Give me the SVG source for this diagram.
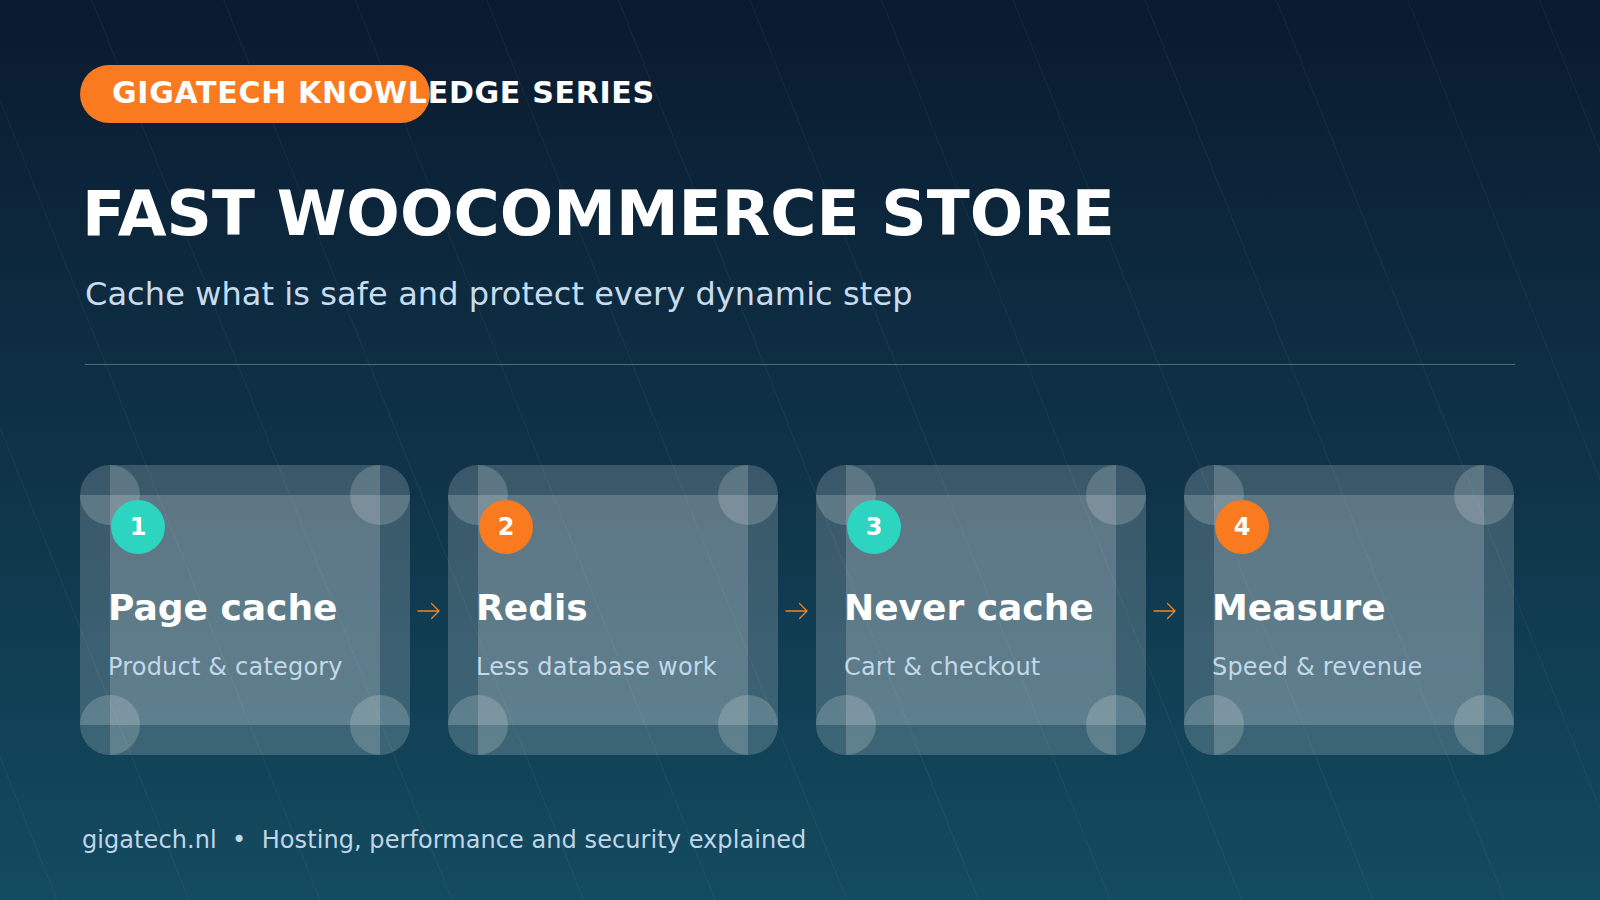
<svg xmlns="http://www.w3.org/2000/svg" width="1600" height="900" viewBox="0 0 1600 900">
  <defs>
    <linearGradient id="bg" x1="0" y1="0" x2="0" y2="1">
      <stop offset="0" stop-color="#0a1a2f"/>
      <stop offset="1" stop-color="#134b60"/>
    </linearGradient>
    <style>
      .sans { font-family: "DejaVu Sans", "Liberation Sans", sans-serif; }
      .diag { stroke: #ffffff; stroke-opacity: 0.055; stroke-width: 1; fill: none; }
      .piece { fill: #ffffff; fill-opacity: 0.18; }
      .num { font-family: "DejaVu Sans", sans-serif; font-weight: bold; font-size: 24px; fill: #ffffff; text-anchor: middle; }
      .ctitle { font-family: "DejaVu Sans", sans-serif; font-weight: bold; font-size: 36px; fill: #ffffff; }
      .csub { font-family: "DejaVu Sans", sans-serif; font-size: 24px; fill: #c3d8e8; letter-spacing: 0.2px; }
      .arrow { stroke: #e8862c; stroke-width: 1.3; fill: none; stroke-linecap: round; stroke-linejoin: round; }
      .teal { fill: #2dd4c0; }
      .orange { fill: #f97a1f; }
    </style>
  </defs>

  <rect width="1600" height="900" fill="url(#bg)"/>

  <g id="diagonals" class="diag">
    <path d="M-303 0 L57 900 M-171 0 L189 900 M-40 0 L320 900 M92 0 L452 900 M223.6 0 L583.6 900 M355.2 0 L715.2 900 M486.8 0 L846.8 900 M618.4 0 L978.4 900 M750 0 L1110 900 M881.6 0 L1241.6 900 M1013.2 0 L1373.2 900 M1144.8 0 L1504.8 900 M1276.4 0 L1636.4 900 M1408 0 L1768 900 M1539.6 0 L1899.6 900"/>
  </g>

  <g id="header">
    <rect x="80" y="65" width="350" height="58" rx="29" fill="#f97a1f"/>
    <text x="112" y="103" class="sans" font-size="30" font-weight="bold" fill="#ffffff" letter-spacing="0.7">GIGATECH KNOWLEDGE SERIES</text>
    <text x="82" y="235" class="sans" font-size="63" font-weight="bold" fill="#ffffff">FAST WOOCOMMERCE STORE</text>
    <text x="85" y="305" class="sans" font-size="32" fill="#c8dcef" letter-spacing="0.08">Cache what is safe and protect every dynamic step</text>
    <line x1="85" y1="364.5" x2="1515" y2="364.5" stroke="#ffffff" stroke-opacity="0.28" stroke-width="1"/>
  </g>

  <g id="card1">
    <rect class="piece" x="110" y="465" width="270" height="290"/>
    <rect class="piece" x="80" y="495" width="330" height="230"/>
    <circle class="piece" cx="110" cy="495" r="30"/>
    <circle class="piece" cx="380" cy="495" r="30"/>
    <circle class="piece" cx="110" cy="725" r="30"/>
    <circle class="piece" cx="380" cy="725" r="30"/>
    <circle class="teal" cx="138" cy="527" r="27"/>
    <text class="num" x="138" y="535">1</text>
    <text class="ctitle" x="108" y="620">Page cache</text>
    <text class="csub" x="108" y="675">Product &amp; category</text>
  </g>

  <g id="card2">
    <rect class="piece" x="478" y="465" width="270" height="290"/>
    <rect class="piece" x="448" y="495" width="330" height="230"/>
    <circle class="piece" cx="478" cy="495" r="30"/>
    <circle class="piece" cx="748" cy="495" r="30"/>
    <circle class="piece" cx="478" cy="725" r="30"/>
    <circle class="piece" cx="748" cy="725" r="30"/>
    <circle class="orange" cx="506" cy="527" r="27"/>
    <text class="num" x="506" y="535">2</text>
    <text class="ctitle" x="476" y="620">Redis</text>
    <text class="csub" x="476" y="675">Less database work</text>
  </g>

  <g id="card3">
    <rect class="piece" x="846" y="465" width="270" height="290"/>
    <rect class="piece" x="816" y="495" width="330" height="230"/>
    <circle class="piece" cx="846" cy="495" r="30"/>
    <circle class="piece" cx="1116" cy="495" r="30"/>
    <circle class="piece" cx="846" cy="725" r="30"/>
    <circle class="piece" cx="1116" cy="725" r="30"/>
    <circle class="teal" cx="874" cy="527" r="27"/>
    <text class="num" x="874" y="535">3</text>
    <text class="ctitle" x="844" y="620">Never cache</text>
    <text class="csub" x="844" y="675">Cart &amp; checkout</text>
  </g>

  <g id="card4">
    <rect class="piece" x="1214" y="465" width="270" height="290"/>
    <rect class="piece" x="1184" y="495" width="330" height="230"/>
    <circle class="piece" cx="1214" cy="495" r="30"/>
    <circle class="piece" cx="1484" cy="495" r="30"/>
    <circle class="piece" cx="1214" cy="725" r="30"/>
    <circle class="piece" cx="1484" cy="725" r="30"/>
    <circle class="orange" cx="1242" cy="527" r="27"/>
    <text class="num" x="1242" y="535">4</text>
    <text class="ctitle" x="1212" y="620">Measure</text>
    <text class="csub" x="1212" y="675">Speed &amp; revenue</text>
  </g>

  <g id="connectors">
    <path class="arrow" d="M418 611 H439 M431.5 603.5 L439 611 L431.5 618.5"/>
    <path class="arrow" d="M786 611 H807 M799.5 603.5 L807 611 L799.5 618.5"/>
    <path class="arrow" d="M1154 611 H1175 M1167.5 603.5 L1175 611 L1167.5 618.5"/>
  </g>

  <g id="footer">
    <text x="82" y="848" class="sans" font-size="24" fill="#c0d6e8" letter-spacing="0.07" style="white-space:pre">gigatech.nl  •  Hosting, performance and security explained</text>
  </g>
</svg>
